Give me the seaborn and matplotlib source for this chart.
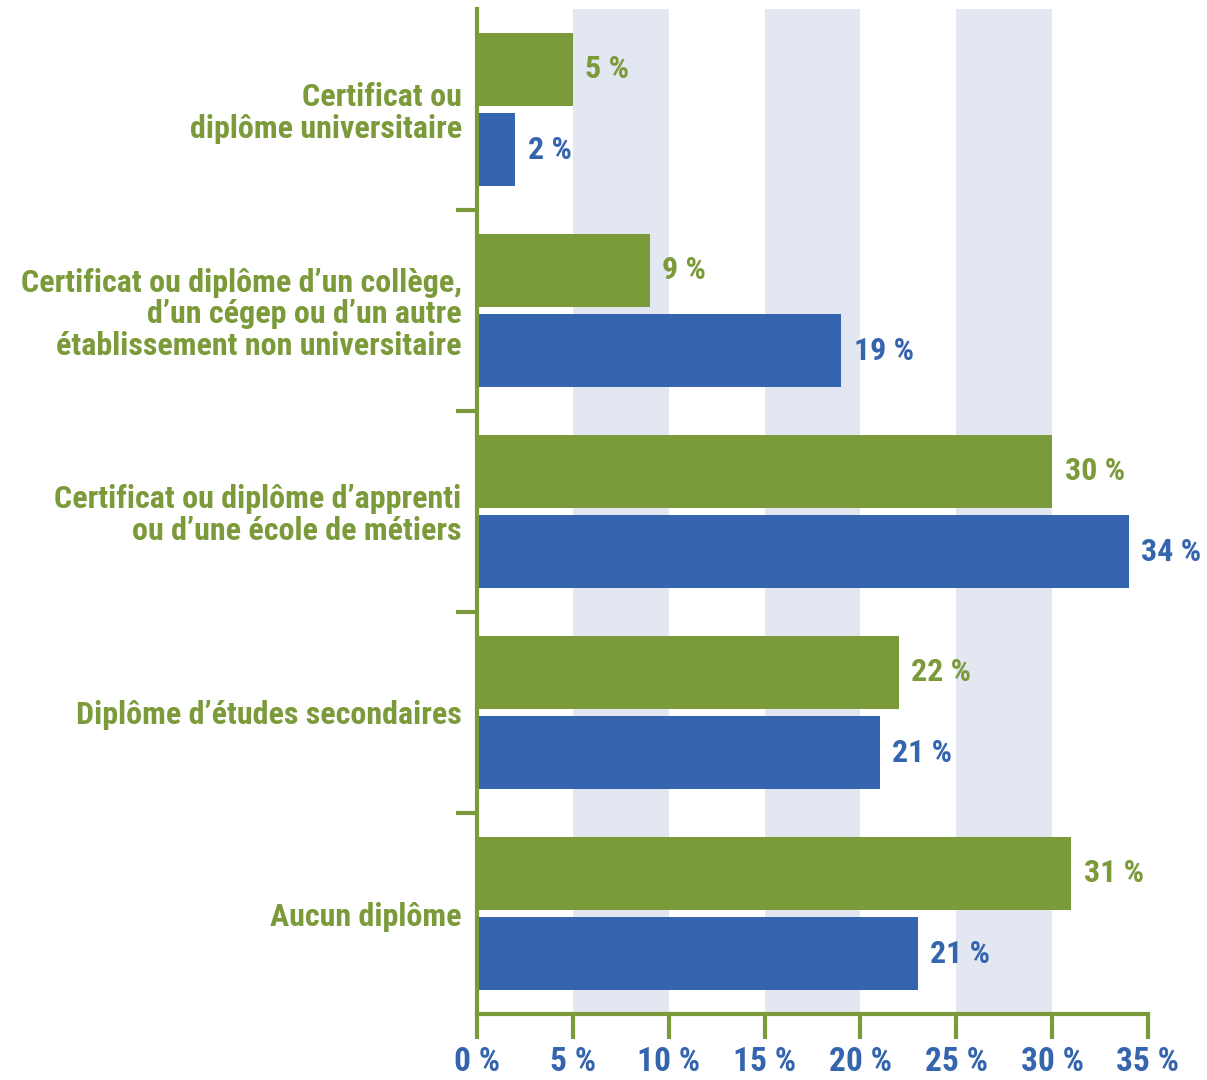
import numpy as np
import pandas as pd
import matplotlib
matplotlib.use("Agg")
import matplotlib.pyplot as plt
from matplotlib import font_manager
import seaborn as sns

# data
categories = [
    "Certificat ou\ndiplôme universitaire",
    "Certificat ou diplôme d’un collège,\nd’un cégep ou d’un autre\nétablissement non universitaire",
    "Certificat ou diplôme d’apprenti\nou d’une école de métiers",
    "Diplôme d’études secondaires",
    "Aucun diplôme",
]
series_names = ["Groupe A", "Groupe B"]
values_a = [5, 9, 30, 22, 31]
values_b = [2, 19, 34, 21, 23]
labels_a = ["5 %", "9 %", "30 %", "22 %", "31 %"]
labels_b = ["2 %", "19 %", "34 %", "21 %", "21 %"]
x_ticks = [0, 5, 10, 15, 20, 25, 30, 35]
x_tick_labels = ["0 %", "5 %", "10 %", "15 %", "20 %", "25 %", "30 %", "35 %"]
bands = [(5, 10), (15, 20), (25, 30)]

GREEN = "#7b9a3a"
BLUE = "#3565ae"
BAND = "#e3e7f2"

# pick a narrow font if one is installed
installed = {f.name for f in font_manager.fontManager.ttflist}
family = "DejaVu Sans"
for name in ["Liberation Sans Narrow", "DejaVu Sans Condensed", "Roboto Condensed", "Roboto"]:
    if name in installed:
        family = name
        break

sns.set_style("white")
plt.rcParams["font.family"] = [family, "DejaVu Sans"]

df = pd.DataFrame({
    "categorie": categories * 2,
    "groupe": [series_names[0]] * 5 + [series_names[1]] * 5,
    "valeur": values_a + values_b,
})

fig = plt.figure(figsize=(12.07, 10.8), dpi=100)
ax = fig.add_axes([0.3952, 0.0611, 0.5559, 0.9306])

for lo, hi in bands:
    ax.axvspan(lo, hi, color=BAND, lw=0, zorder=0)

sns.barplot(data=df, y="categorie", x="valeur", hue="groupe", orient="h",
            palette=[GREEN, BLUE], width=0.8, gap=0.09, saturation=1,
            linewidth=0, edgecolor="none", legend=False, ax=ax, zorder=2)

# value labels
for container, labels, color in zip(ax.containers, [labels_a, labels_b], [GREEN, BLUE]):
    ax.bar_label(container, labels=labels, padding=9, color=color,
                 fontsize=23, fontweight="bold")

ax.set_xlim(0, 35)
ax.set_ylim(4.5, -0.5)
ax.set_xlabel("")
ax.set_ylabel("")

ax.set_xticks(x_ticks)
ax.set_xticklabels(x_tick_labels, fontsize=24, fontweight="bold", color=BLUE)
ax.tick_params(axis="x", bottom=True, direction="out", length=18, width=3,
               color=GREEN, pad=5)

ax.set_yticks(range(len(categories)))
ax.set_yticklabels(categories, fontsize=23, fontweight="bold", color=GREEN,
                   linespacing=1.08)
ax.tick_params(axis="y", which="major", left=True, length=0, pad=11)
ax.set_yticks([0.5, 1.5, 2.5, 3.5], minor=True)
ax.tick_params(axis="y", which="minor", left=True, direction="out", length=15,
               width=3, color=GREEN)

for side in ["top", "right"]:
    ax.spines[side].set_visible(False)
for side in ["left", "bottom"]:
    ax.spines[side].set_color(GREEN)
    ax.spines[side].set_linewidth(3)

fig.savefig("out.png", dpi=100)
